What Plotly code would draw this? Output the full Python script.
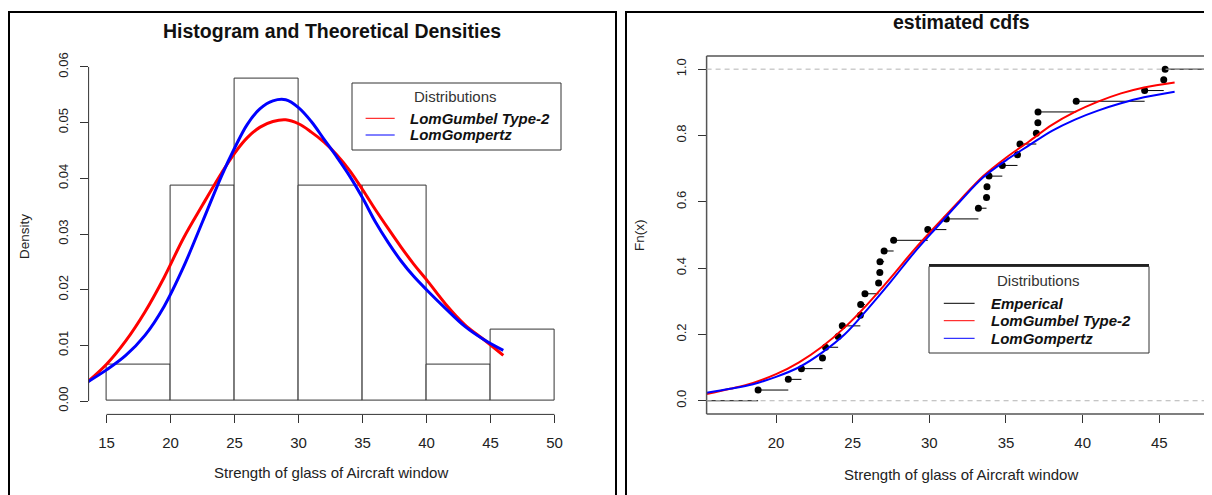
import plotly.graph_objects as go

# ---------------- data ----------------
bin_edges = [15, 20, 25, 30, 35, 40, 45, 50]
bin_density = [0.0065, 0.0387, 0.058, 0.0387, 0.0387, 0.0065, 0.0129]

dens_x = [13.5, 15, 16.5, 18, 19.5, 21, 22.5, 24, 25, 26, 27, 28, 29, 30, 31, 32,
          33, 34, 35, 36, 37, 38, 39, 40, 41.5, 43, 44.5, 46]
dens_lgt2 = [0.0034, 0.0066, 0.0108, 0.0160, 0.0222, 0.0292, 0.0352, 0.0410, 0.0445,
             0.0473, 0.0492, 0.0502, 0.0505, 0.0498, 0.0483, 0.0465, 0.0442, 0.0414,
             0.0380, 0.0344, 0.0310, 0.0277, 0.0246, 0.0218, 0.0174, 0.0137, 0.0110, 0.0082]
dens_lgz = [0.0034, 0.0056, 0.0082, 0.0118, 0.0170, 0.0240, 0.0322, 0.0405, 0.0454,
            0.0497, 0.0525, 0.0539, 0.0541, 0.0527, 0.0502, 0.0470, 0.0438, 0.0404,
            0.0365, 0.0322, 0.0285, 0.0252, 0.0224, 0.0200, 0.0166, 0.0134, 0.0110, 0.0091]

cdf_x = [15.47, 17, 18.5, 20, 21.5, 23, 24.5, 26, 27.5, 29, 30.5, 32, 33.5, 35, 36.5,
         38, 39.5, 41, 42.5, 44, 46]
cdf_lgt2 = [0.020, 0.036, 0.054, 0.080, 0.116, 0.163, 0.222, 0.293, 0.372, 0.455, 0.531,
            0.605, 0.677, 0.733, 0.782, 0.832, 0.871, 0.902, 0.927, 0.945, 0.960]
cdf_lgz = [0.024, 0.036, 0.050, 0.072, 0.101, 0.145, 0.201, 0.278, 0.360, 0.446, 0.524,
           0.601, 0.673, 0.725, 0.770, 0.814, 0.848, 0.875, 0.897, 0.915, 0.932]

strength = [18.83, 20.8, 21.657, 23.03, 23.23, 24.05, 24.321, 25.5, 25.52, 25.8, 26.69,
            26.77, 26.78, 27.05, 27.67, 29.9, 31.11, 33.2, 33.73, 33.76, 33.89, 34.76,
            35.75, 35.91, 36.98, 37.08, 37.09, 39.58, 44.045, 45.29, 45.381]

hist_xticks = [15, 20, 25, 30, 35, 40, 45, 50]
hist_yticks = [0.0, 0.01, 0.02, 0.03, 0.04, 0.05, 0.06]
hist_yticktext = ["0.00", "0.01", "0.02", "0.03", "0.04", "0.05", "0.06"]
cdf_xticks = [20, 25, 30, 35, 40, 45]
cdf_yticks = [0.0, 0.2, 0.4, 0.6, 0.8, 1.0]
cdf_yticktext = ["0.0", "0.2", "0.4", "0.6", "0.8", "1.0"]

# ---------------- layout helpers ----------------
# the page body has an 8px margin, so the figure is 8px smaller and all
# reference pixel positions are shifted by 8px
OFF = 8
W, H = 1212 - OFF, 495 - OFF
FONT = "Liberation Sans, Arial, sans-serif"
def px(x):
    return (x - OFF) / W
def py(y):
    return 1 - (y - OFF) / H

fig = go.Figure()

# histogram bars
centers = [(bin_edges[i] + bin_edges[i + 1]) / 2 for i in range(len(bin_density))]
widths = [bin_edges[i + 1] - bin_edges[i] for i in range(len(bin_density))]
fig.add_trace(go.Bar(x=centers, y=bin_density, width=widths, xaxis="x", yaxis="y",
                     marker=dict(color="white", line=dict(color="#333333", width=1)),
                     showlegend=False, hoverinfo="skip"))
fig.add_trace(go.Scatter(x=dens_x, y=dens_lgt2, mode="lines", line=dict(color="red", width=3, shape="spline"),
                         xaxis="x", yaxis="y", showlegend=False))
fig.add_trace(go.Scatter(x=dens_x, y=dens_lgz, mode="lines", line=dict(color="blue", width=3, shape="spline"),
                         xaxis="x", yaxis="y", showlegend=False))

# ECDF
n = len(strength)
x_left, x_right = 10.0, 55.0
seg_x, seg_y = [x_left, strength[0], None], [0, 0, None]
for i in range(n):
    x1 = strength[i + 1] if i + 1 < n else x_right
    seg_x += [strength[i], x1, None]
    seg_y += [(i + 1) / n, (i + 1) / n, None]
fig.add_trace(go.Scatter(x=seg_x, y=seg_y, mode="lines", line=dict(color="black", width=1),
                         xaxis="x2", yaxis="y2", showlegend=False, connectgaps=False))
fig.add_trace(go.Scatter(x=strength, y=[(i + 1) / n for i in range(n)], mode="markers",
                         marker=dict(color="black", size=7), xaxis="x2", yaxis="y2", showlegend=False))
fig.add_trace(go.Scatter(x=cdf_x, y=cdf_lgt2, mode="lines", line=dict(color="red", width=2, shape="spline"),
                         xaxis="x2", yaxis="y2", showlegend=False))
fig.add_trace(go.Scatter(x=cdf_x, y=cdf_lgz, mode="lines", line=dict(color="blue", width=2, shape="spline"),
                         xaxis="x2", yaxis="y2", showlegend=False))

tickfont_h = dict(family=FONT, size=15, color="#222")
tickfont_v = dict(family=FONT, size=13, color="#222")
common_ax = dict(showgrid=False, zeroline=False, showline=False, ticks="outside", ticklen=8,
                 tickwidth=1, tickcolor="#333")

fig.update_layout(
    width=W, height=H, margin=dict(l=0, r=0, t=0, b=0),
    paper_bgcolor="white", plot_bgcolor="white", showlegend=False, bargap=0,
    xaxis=dict(domain=[px(88.6), px(572.4)], range=[13.6, 51.4], tickvals=hist_xticks,
               tickfont=tickfont_h, anchor="y", ticklabelstandoff=7, **common_ax),
    yaxis=dict(domain=[py(414.4), py(53.6)], range=[-0.0024, 0.0624], tickvals=hist_yticks,
               ticktext=hist_yticktext, tickangle=-90, tickfont=tickfont_v, anchor="x",
               ticklabelstandoff=6, **common_ax),
    xaxis2=dict(domain=[px(706.6), 1.0], range=[15.47, 15.47 + (1212 - 706.6) / 15.33],
                tickvals=cdf_xticks, tickfont=tickfont_h, anchor="y2", ticklabelstandoff=7, **common_ax),
    yaxis2=dict(domain=[py(414), py(55.9)], range=[-0.04, 1.04], tickvals=cdf_yticks,
                ticktext=cdf_yticktext, tickangle=-90, tickfont=tickfont_v, anchor="x2",
                ticklabelstandoff=6, **common_ax),
)

shapes = []
# R-style axis lines on histogram
shapes.append(dict(type="line", xref="x", yref="y domain", x0=15, x1=50, y0=0, y1=0,
                   line=dict(color="#333", width=1)))
shapes.append(dict(type="line", xref="x domain", yref="y", x0=0, x1=0, y0=0, y1=0.06,
                   line=dict(color="#333", width=1)))
# box around cdf plot
for (x0, y0, x1, y1) in [(706.6, 55.9, 1230, 55.9), (706.6, 414, 1230, 414), (706.6, 55.9, 706.6, 414)]:
    shapes.append(dict(type="line", xref="paper", yref="paper", x0=px(x0), x1=px(x1), y0=py(y0), y1=py(y1),
                       line=dict(color="#555", width=1.5)))
# gray dashed reference lines
for yv in [0, 1]:
    shapes.append(dict(type="line", xref="x2 domain", yref="y2", x0=0, x1=1, y0=yv, y1=yv,
                       line=dict(color="#b3b3b3", width=1, dash="5px,4px")))
# panel borders
shapes.append(dict(type="rect", xref="paper", yref="paper", x0=px(9), x1=px(616), y0=-0.05, y1=py(12),
                   line=dict(color="black", width=2)))
shapes.append(dict(type="rect", xref="paper", yref="paper", x0=px(626), x1=1.05, y0=-0.05, y1=py(12),
                   line=dict(color="black", width=2)))
# legend boxes
shapes.append(dict(type="rect", xref="paper", yref="paper", x0=px(352), x1=px(561), y0=py(150), y1=py(83),
                   line=dict(color="#333", width=1), fillcolor="white", layer="above"))
shapes.append(dict(type="rect", xref="paper", yref="paper", x0=px(929), x1=px(1149), y0=py(353), y1=py(266.5),
                   line=dict(color="#333", width=1), fillcolor="white", layer="above"))
shapes.append(dict(type="line", xref="paper", yref="paper", x0=px(929), x1=px(1149), y0=py(265), y1=py(265),
                   line=dict(color="#222", width=2)))
# legend keys
for (yy, col) in [(118.3, "red"), (135, "blue")]:
    shapes.append(dict(type="line", xref="paper", yref="paper", x0=px(365.6), x1=px(394.7), y0=py(yy), y1=py(yy),
                       line=dict(color=col, width=1)))
for (yy, col) in [(303.3, "black"), (320.7, "red"), (338.3, "blue")]:
    shapes.append(dict(type="line", xref="paper", yref="paper", x0=px(943.8), x1=px(974.6), y0=py(yy), y1=py(yy),
                       line=dict(color=col, width=1)))
fig.update_layout(shapes=shapes)

ann = []
def text(x, y, s, size=15, anchor="center", angle=0, color="#222"):
    ann.append(dict(xref="paper", yref="paper", x=px(x), y=py(y), text=s, showarrow=False,
                    xanchor=anchor, yanchor="middle", textangle=angle,
                    font=dict(family=FONT, size=size, color=color)))

text(332, 31, "<b>Histogram and Theoretical Densities</b>", size=19.5, color="#111")
text(961, 22, "<b>estimated cdfs</b>", size=19.5, color="#111")
text(331, 472, "Strength of glass of Aircraft window")
text(961, 474, "Strength of glass of Aircraft window")
text(24, 237, "Density", size=13.5, angle=-90)
text(639, 235, "Fn(x)", size=13.5, angle=-90)
text(455, 96, "Distributions", color="#333")
text(408, 118.3, "<b><i>LomGumbel Type-2</i></b>", anchor="left", color="#111")
text(408, 135, "<b><i>LomGompertz</i></b>", anchor="left", color="#111")
text(1038, 280, "Distributions", color="#333")
text(989, 303.3, "<b><i>Emperical</i></b>", anchor="left", color="#111")
text(989, 320.7, "<b><i>LomGumbel Type-2</i></b>", anchor="left", color="#111")
text(989, 338.3, "<b><i>LomGompertz</i></b>", anchor="left", color="#111")
fig.update_layout(annotations=ann)

fig.write_html("out.html")
